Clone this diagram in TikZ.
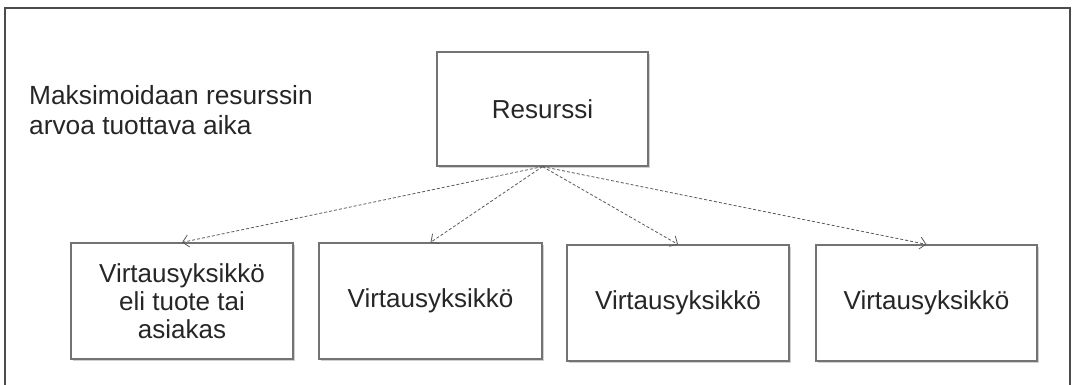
\documentclass[tikz,border=0pt]{standalone}
\usepackage{fontspec}
\setmainfont{Liberation Sans}
\usetikzlibrary{arrows.meta,shadows}
\begin{document}
\begin{tikzpicture}[x=1pt,y=-1pt,
  box/.style={draw=black!55,line width=1.2pt,fill=white,rectangle,inner sep=2pt,
    align=center,text=black!85,font=\fontsize{26}{28}\selectfont,
    drop shadow={shadow xshift=1.5pt,shadow yshift=-2pt,opacity=0.18,fill=black}},
  link/.style={draw=black!65,line width=0.8pt,dash pattern=on 3pt off 2pt,
    -{Straight Barb[length=6pt,width=12pt]}}]
\useasboundingbox (0,0) rectangle (1072,385);
\draw[black!70,line width=1.6pt] (5,386) -- (5,8) -- (1070,8) -- (1070,386);
\node[anchor=north west,inner sep=0pt,align=left,text=black!85,
  font=\fontsize{26.3}{30}\selectfont] (lbl) at (29,85)
  {Maksimoidaan resurssin\\arvoa tuottava aika};
\node[box,minimum width=211pt,minimum height=114pt] (r) at (542.5,109) {Resurssi};
\node[box,minimum width=222pt,minimum height=116pt] (b1) at (182,301)
  {Virtausyksikkö\\eli tuote tai\\asiakas};
\node[box,minimum width=223pt,minimum height=116pt] (b2) at (430.5,301) {Virtausyksikkö};
\node[box,minimum width=222pt,minimum height=116pt] (b3) at (678,303) {Virtausyksikkö};
\node[box,minimum width=221pt,minimum height=116pt] (b4) at (926.5,303) {Virtausyksikkö};
\foreach \t in {b1,b2,b3,b4}
  \draw[link] (r.south) -- (\t.north);
\end{tikzpicture}
\end{document}
